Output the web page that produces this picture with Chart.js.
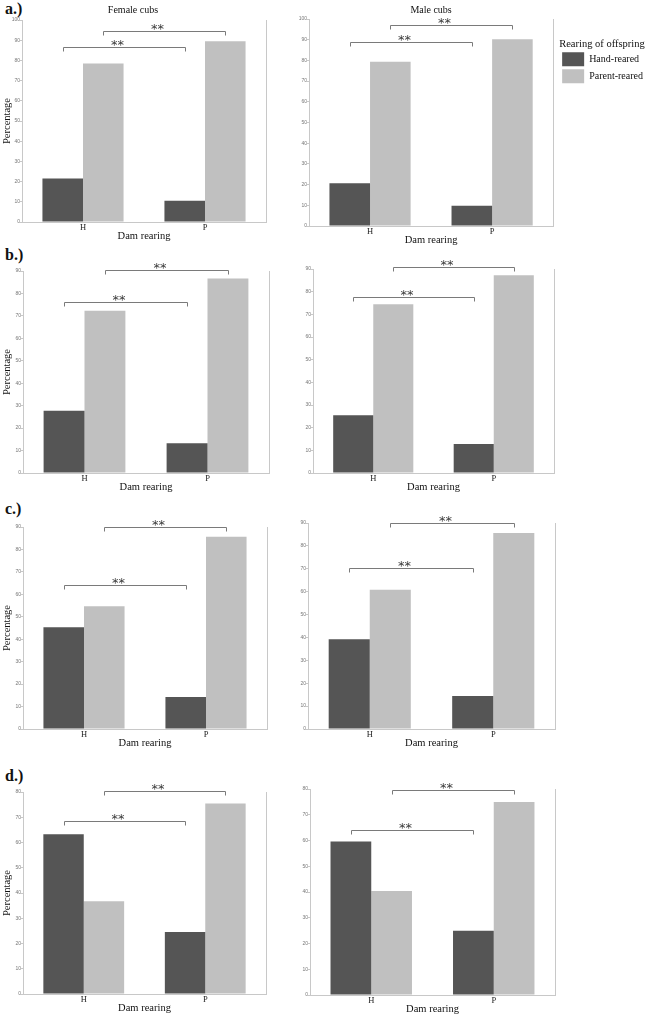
<!DOCTYPE html>
<html>
<head>
<meta charset="utf-8">
<script src="https://cdn.jsdelivr.net/npm/chart.js@4.4.1/dist/chart.umd.min.js"></script>
<style>
  html, body { margin: 0; padding: 0; background: #fff; overflow: hidden; }
  body { width: 647px; height: 1015px; position: relative; }
  canvas { position: absolute; }
  .tag { position: absolute; left: 5px; font: bold 16px "Liberation Serif", serif; line-height: 16px; color: #111; }
</style>
</head>
<body>
<div class="tag" style="top:1px">a.)</div>
<div class="tag" style="top:247px">b.)</div>
<div class="tag" style="top:501px">c.)</div>
<div class="tag" style="top:768px">d.)</div>
<script>
const categories = ["H", "P"];
const seriesNames = ["Hand-reared", "Parent-reared"];

// a.)
const aFemaleHand = [21.5, 10.5];
const aFemaleParent = [78.5, 89.5];
const aMaleHand = [20.7, 9.8];
const aMaleParent = [79.3, 90.2];
// b.)
const bFemaleHand = [27.7, 13.3];
const bFemaleParent = [72.3, 86.7];
const bMaleHand = [25.5, 12.8];
const bMaleParent = [74.5, 87.2];
// c.)
const cFemaleHand = [45.3, 14.3];
const cFemaleParent = [54.7, 85.7];
const cMaleHand = [39.2, 14.4];
const cMaleParent = [60.8, 85.6];
// d.)
const dFemaleHand = [63.3, 24.6];
const dFemaleParent = [36.7, 75.4];
const dMaleHand = [59.6, 25.0];
const dMaleParent = [40.4, 75.0];

const yMaxA = 100, yMaxB = 90, yMaxC = 90, yMaxD = 80;

// significance brackets (height in %): [hand H vs P, parent H vs P]
const significance = "**";
const aFemaleBrackets = [86.5, 94.5];
const aMaleBrackets = [88.7, 97.1];
const bFemaleBrackets = [76.3, 90.4];
const bMaleBrackets = [77.8, 90.7];
const cFemaleBrackets = [64.3, 90];
const cMaleBrackets = [70.3, 90];
const dFemaleBrackets = [68.6, 80.5];
const dMaleBrackets = [64.2, 79.6];

const SERIF = '"Liberation Serif", "Times New Roman", serif';
const DARK = "#555555";
const LIGHT = "#c0c0c0";
const AXIS = "#c8c8c8";
const AXIS_H = 24;

function bracketPlugin(levels) {
  return {
    id: "brackets",
    afterDatasetsDraw(chart) {
      const { ctx } = chart;
      const y = chart.scales.y;
      ctx.save();
      levels.forEach((level, ds) => {
        const bars = chart.getDatasetMeta(ds).data;
        const x1 = Math.round(bars[0].x) + 0.5;
        const x2 = Math.round(bars[1].x) + 0.5;
        const py = Math.round(y.getPixelForValue(level)) + 0.5;
        ctx.strokeStyle = "#7a7a7a";
        ctx.lineWidth = 1;
        ctx.beginPath();
        ctx.moveTo(x1, py + 4);
        ctx.lineTo(x1, py);
        ctx.lineTo(x2, py);
        ctx.lineTo(x2, py + 4);
        ctx.stroke();
        ctx.fillStyle = "#3a3a3a";
        ctx.font = '13px "DejaVu Sans"';
        ctx.textAlign = "center";
        ctx.textBaseline = "alphabetic";
        ctx.fillText(significance, (x1 + x2) / 2 - 7, py + 1);
      });
      ctx.restore();
    },
  };
}

function panel(box, hand, parent, yMax, levels, extra = {}) {
  const cv = document.createElement("canvas");
  const h = box.b + AXIS_H - box.y;
  let w = box.r - box.x + 10;
  let y2W = 0;
  let padRight = 10;
  let legendOpts = { display: false };

  if (extra.legend) {
    const m = document.createElement("canvas").getContext("2d");
    m.font = "10px " + SERIF;
    const tw = Math.max(m.measureText(seriesNames[0]).width, m.measureText(seriesNames[1]).width);
    const legendW = 3 + 22 + 5 + tw + 10;
    y2W = 6;
    padRight = 0;
    w = box.r + y2W + legendW - box.x;
    legendOpts = {
      display: true,
      position: "right",
      align: "start",
      maxWidth: 300,
      labels: { boxWidth: 22, boxHeight: 14, padding: 3, color: "#111", font: { family: SERIF, size: 10 } },
      title: {
        display: true,
        text: "Rearing of offspring",
        position: "start",
        color: "#111",
        font: { family: SERIF, size: 10.5, lineHeight: 1 },
        padding: { top: 38.75, bottom: 0 },
      },
    };
  }

  cv.width = w;
  cv.height = h;
  cv.style.left = box.x + "px";
  cv.style.top = box.y + "px";
  document.body.appendChild(cv);

  const titleOpts = extra.title
    ? {
        display: true,
        text: extra.title,
        fullSize: !extra.legend,
        color: "#111",
        font: { family: SERIF, size: 10, lineHeight: 1.2, weight: "normal" },
        padding: { top: 4, bottom: box.t - box.y - 16 },
      }
    : { display: false };
  const padTop = extra.title ? 0 : box.t - box.y;

  return new Chart(cv, {
    type: "bar",
    data: {
      labels: categories,
      datasets: [
        { label: seriesNames[0], data: hand, backgroundColor: DARK, borderWidth: 0, yAxisID: "y" },
        { label: seriesNames[1], data: parent, backgroundColor: LIGHT, borderWidth: 0, yAxisID: "y" },
      ],
    },
    options: {
      responsive: false,
      animation: false,
      devicePixelRatio: 1,
      layout: { padding: { left: 0, top: padTop, right: padRight, bottom: 0 } },
      datasets: { bar: { categoryPercentage: 0.665, barPercentage: 1 } },
      plugins: {
        legend: legendOpts,
        title: titleOpts,
        tooltip: { enabled: false },
      },
      scales: {
        x: {
          grid: { display: false, drawTicks: false },
          border: { color: AXIS, width: 1 },
          ticks: { color: "#222", padding: 1, font: { family: SERIF, size: 8.5 } },
          title: {
            display: true,
            text: "Dam rearing",
            color: "#111",
            font: { family: SERIF, size: 10.5, lineHeight: 1.2 },
            padding: { top: 0, bottom: 3.7 },
          },
          afterFit: (s) => { s.height = AXIS_H; },
        },
        y: {
          min: 0,
          max: yMax,
          ticks: { stepSize: 10, color: "#777", padding: 0, font: { family: '"Liberation Sans", sans-serif', size: 5 } },
          grid: { drawOnChartArea: false, tickLength: 2, color: AXIS },
          border: { color: AXIS },
          title: {
            display: !!extra.yTitle,
            text: "Percentage",
            color: "#111",
            font: { family: SERIF, size: 10.5, lineHeight: 1.2 },
            padding: { top: 1.2, bottom: 0 },
          },
          afterFit: (s) => { s.width = box.l - box.x; },
        },
        y2: {
          position: "right",
          min: 0,
          max: 1,
          ticks: { display: false },
          grid: { display: false, drawTicks: false },
          border: { color: AXIS },
          afterFit: (s) => { s.width = y2W; },
        },
      },
    },
    plugins: [bracketPlugin(levels)],
  });
}

panel({ x: 0, y: 0, l: 22, t: 20, r: 266, b: 222 }, aFemaleHand, aFemaleParent, yMaxA, aFemaleBrackets, { title: "Female cubs", yTitle: true });
panel({ x: 289, y: 0, l: 309, t: 19, r: 554, b: 226 }, aMaleHand, aMaleParent, yMaxA, aMaleBrackets, { title: "Male cubs", legend: true });
panel({ x: 0, y: 243, l: 23, t: 271, r: 269, b: 473 }, bFemaleHand, bFemaleParent, yMaxB, bFemaleBrackets, { yTitle: true });
panel({ x: 290, y: 241, l: 313, t: 269, r: 554, b: 473 }, bMaleHand, bMaleParent, yMaxB, bMaleBrackets);
panel({ x: 0, y: 499, l: 23, t: 527, r: 267, b: 729 }, cFemaleHand, cFemaleParent, yMaxC, cFemaleBrackets, { yTitle: true });
panel({ x: 288, y: 495, l: 308, t: 523, r: 555, b: 729 }, cMaleHand, cMaleParent, yMaxC, cMaleBrackets);
panel({ x: 0, y: 764, l: 23, t: 792, r: 266, b: 994 }, dFemaleHand, dFemaleParent, yMaxD, dFemaleBrackets, { yTitle: true });
panel({ x: 290, y: 761, l: 310, t: 789, r: 555, b: 995 }, dMaleHand, dMaleParent, yMaxD, dMaleBrackets);
</script>
</body>
</html>
